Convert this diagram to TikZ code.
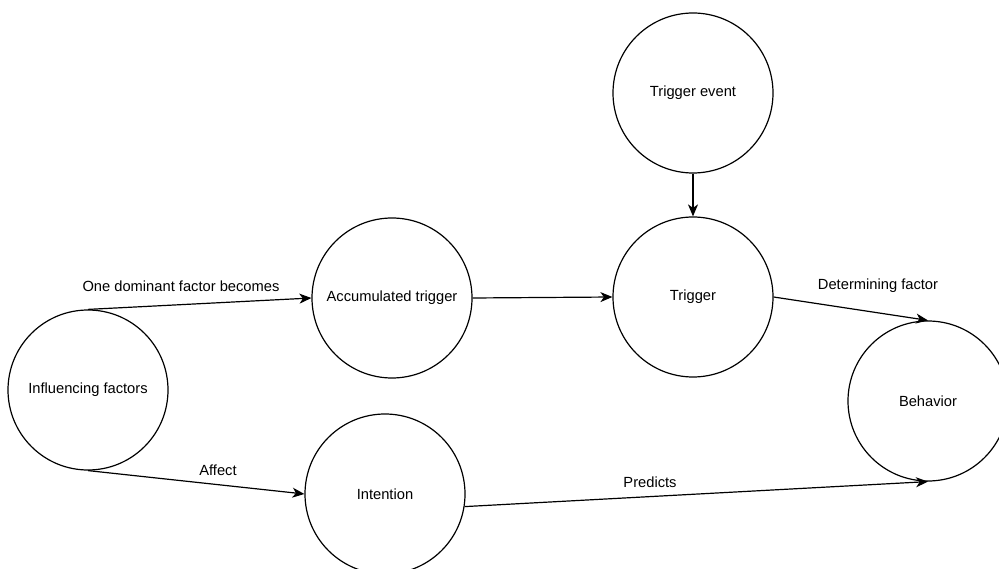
\documentclass[tikz,border=0pt]{standalone}
\usepackage{fontspec}
\setmainfont{Liberation Sans}
\usetikzlibrary{arrows.meta}

\tikzset{
  state/.style={draw, line width=1.2pt, circle, minimum size=160pt, inner sep=0pt, font=\fontsize{14.7}{17}\selectfont},
  lbl/.style={font=\fontsize{14.7}{17}\selectfont, inner sep=0pt},
  link/.style={line width=1.2pt, -{Stealth[length=12pt, width=10pt, inset=3.5pt]}}
}

\begin{document}
\begin{tikzpicture}[x=1pt, y=-1pt]
\useasboundingbox (0,0) rectangle (999,569);

\node [state] (inf) at (88,390) {Influencing factors};
\node [state] (acc) at (392,298) {Accumulated trigger};
\node [state] (tev) at (693,93) {Trigger event};
\node [state] (trig) at (693,297) {Trigger};
\node [state] (int) at (385,494) {Intention};
\node [state] (beh) at (928,401) {Behavior};

\draw [link] (inf.north) -- (acc.west);
\draw [link] (inf.south) -- (int.west);
\draw [link] (acc.east) -- (trig.west);
\draw [link] (tev.south) -- (trig.north);
\draw [link] (trig.east) -- (beh.north);
\draw [link] (int.-9) -- (beh.south);

\node [lbl] (lDom) at (181,286) {One dominant factor becomes};
\node [lbl] (lAff) at (218,470) {Affect};
\node [lbl] (lDet) at (878,286) {Determining factor};
\node [lbl] (lPre) at (650,482) {Predicts};
\end{tikzpicture}
\end{document}
